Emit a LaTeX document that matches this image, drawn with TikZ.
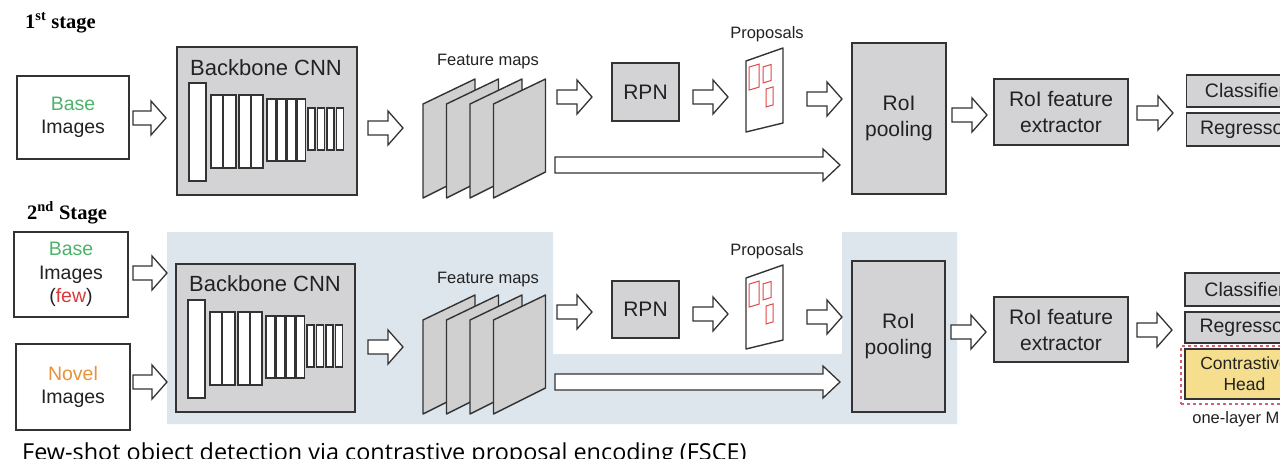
\documentclass[tikz,border=0pt]{standalone}
\usepackage{fontspec}
\setmainfont{Liberation Sans}
\newfontfamily\headfont{Liberation Serif}
\newfontfamily\capfont{Open Sans}
\definecolor{edge}{HTML}{333333}
\definecolor{ink}{HTML}{222222}
\definecolor{boxgray}{HTML}{D3D3D5}
\definecolor{sheetgray}{HTML}{D0D0D0}
\definecolor{bluebg}{HTML}{DDE5ED}
\definecolor{basegreen}{HTML}{4DB36B}
\definecolor{fewred}{HTML}{D83A3A}
\definecolor{novelorange}{HTML}{E8923A}
\definecolor{headyellow}{HTML}{F5DE8E}
\definecolor{dashred}{HTML}{D4606E}
\definecolor{propred}{HTML}{E04848}
% hollow block arrow: x-start, x-end, y-centre
\newcommand\flowarrow[3]{\draw[harrow] (#1,#3-7) -- (#2-15,#3-7) -- (#2-15,#3-17) -- (#2,#3) -- (#2-15,#3+17) -- (#2-15,#3+7) -- (#1,#3+7) -- cycle;}
\newcommand\longflow[3]{\draw[harrow] (#1,#3-8) -- (#2-17,#3-8) -- (#2-17,#3-16) -- (#2,#3) -- (#2-17,#3+16) -- (#2-17,#3+8) -- (#1,#3+8) -- cycle;}
\tikzset{
  box/.style={draw=edge, line width=1.6pt, fill=boxgray, inner sep=0pt, text=ink, align=center},
  inbox/.style={draw=edge, line width=1.5pt, fill=white, inner sep=0pt, text=ink, align=center,
    font=\fontsize{19.5}{23.5}\selectfont},
  layer/.style={draw=edge, line width=1.1pt, fill=white},
  sheet/.style={draw=edge, line width=1.4pt, fill=sheetgray, line join=round},
  propsheet/.style={draw=edge, line width=1.4pt, fill=white, line join=round},
  propbox/.style={draw=propred, line width=1pt},
  harrow/.style={draw=edge, line width=1.3pt, fill=white, line join=miter},
  big/.style={font=\fontsize{22}{26}\selectfont, text=ink, inner sep=0pt},
  mid/.style={font=\fontsize{21}{26}\selectfont},
  headtxt/.style={font=\fontsize{19.5}{24}\selectfont},
  small/.style={font=\fontsize{16.5}{20}\selectfont, text=ink, inner sep=0pt, anchor=base},
  stagehead/.style={font=\headfont\bfseries\fontsize{20.5}{24}\selectfont, inner sep=0pt, anchor=base west},
  pics/cnnstack/.style={code={
    \draw[layer] (13,37) rectangle (30,135);
    \foreach \a/\b in {35/47,47/60,63/75,75/87} \draw[layer] (\a,49) rectangle (\b,122);
    \foreach \a in {91,101,111,121} \draw[layer] (\a,53) rectangle (\a+8.5,115);
    \foreach \a in {132,141.5,151,160.5} \draw[layer] (\a,62) rectangle (\a+7,104);
  }},
  pics/featstack/.style={code={
    \foreach \i in {0,1,2,3}
      \draw[sheet] (23.5*\i,0) -- (23.5*\i+52,-25) -- (23.5*\i+52,68) -- (23.5*\i,94) -- cycle;
  }},
  pics/proposal/.style={code={
    \draw[propsheet] (0,0) -- (37,-13) -- (37,62) -- (0,71) -- cycle;
    \begin{scope}[yslant=0.3]
      \draw[propbox] (3,7) rectangle (13,30);
      \draw[propbox] (17,11) rectangle (25,27);
      \draw[propbox] (20,34) rectangle (27,52);
    \end{scope}
  }},
}
\begin{document}
\begin{tikzpicture}[x=1pt,y=-1pt]
\useasboundingbox (0,0) rectangle (1280,458);
\clip (0,0) rectangle (1280,458);
\fill[white] (0,0) rectangle (1280,458);

% ---------------- first stage ----------------
\node[stagehead] (h1) at (25,28) {1\textsuperscript{st} stage};

\node[inbox, minimum width=112, minimum height=83] (base1) at (73,117.5)
  {\textcolor{basegreen}{Base}\\Images};

\node[box, minimum width=180, minimum height=148, anchor=north west] (cnn1) at (176,46) {};
\node[big, anchor=base] (cnnlbl1) at (266,75) {Backbone CNN};
\pic at (cnn1.north west) {cnnstack};

\node[small] (fmlbl1) at (488,65) {Feature maps};
\pic at (423,104) {featstack};

\node[box, mid, minimum width=67, minimum height=58] (rpn1) at (645.5,92) {RPN};

\node[small] (prlbl1) at (767,38) {Proposals};
\pic at (746,61) {proposal};

\node[box, mid, minimum width=94, minimum height=151] (roi1) at (899,118.5) {RoI\\pooling};
\node[box, mid, minimum width=134, minimum height=66] (ext1) at (1061,112) {RoI feature\\extractor};

\node[box, headtxt, minimum width=117, minimum height=32] (cls1) at (1245,91) {Classifier};
\node[box, headtxt, minimum width=117, minimum height=33] (reg1) at (1245,129.5) {Regressor};

\flowarrow{133}{166}{118}
\flowarrow{368}{403}{128}
\flowarrow{557}{592}{97}
\flowarrow{693}{728}{97}
\flowarrow{807}{842}{99}
\longflow{555}{840}{165}
\flowarrow{952}{987}{115}
\flowarrow{1137}{1173}{113}

% ---------------- second stage ----------------
\fill[bluebg] (167,232) -- (553,232) -- (553,354) -- (842,354) -- (842,232)
  -- (957,232) -- (957,424) -- (167,424) -- cycle;

\node[stagehead] (h2) at (27,219) {2\textsuperscript{nd} Stage};

\node[inbox, minimum width=114, minimum height=85] (base2) at (71,274.5)
  {\textcolor{basegreen}{Base}\\Images\\(\textcolor{fewred}{few})};
\node[inbox, minimum width=114, minimum height=86] (novel2) at (73,387)
  {\textcolor{novelorange}{Novel}\\Images};

\node[box, minimum width=179, minimum height=148, anchor=north west] (cnn2) at (175,263) {};
\node[big, anchor=base] (cnnlbl2) at (265,291) {Backbone CNN};
\pic at (cnn2.north west) {cnnstack};

\node[small] (fmlbl2) at (488,283) {Feature maps};
\pic at (423,320) {featstack};

\node[box, mid, minimum width=67, minimum height=57] (rpn2) at (645.5,309.5) {RPN};

\node[small] (prlbl2) at (767,255) {Proposals};
\pic at (746,278) {proposal};

\node[box, mid, minimum width=93, minimum height=151] (roi2) at (898.5,336.5) {RoI\\pooling};
\node[box, mid, minimum width=134, minimum height=65] (ext2) at (1061,329.5) {RoI feature\\extractor};

\node[box, headtxt, minimum width=119, minimum height=33] (cls2) at (1244.5,289.5) {Classifier};
\node[box, headtxt, minimum width=119, minimum height=31] (reg2) at (1244.5,327.5) {Regressor};
\node[draw=dashred, dashed, line width=1.2pt, minimum width=129, minimum height=58, inner sep=0pt] (mlp2) at (1245.5,375) {};
\node[box, fill=headyellow, font=\fontsize{17.5}{21}\selectfont, minimum width=119, minimum height=50] (con2) at (1244.5,374) {Contrastive\\Head};
\node[small] (mlplbl2) at (1246,423) {one-layer MLP};

\flowarrow{133}{167}{273}
\flowarrow{133}{167}{382}
\flowarrow{368}{403}{347}
\flowarrow{557}{592}{312}
\flowarrow{693}{728}{314}
\flowarrow{807}{842}{317}
\longflow{555}{840}{382}
\flowarrow{951}{986}{332}
\flowarrow{1137}{1172}{330}

% ---------------- caption ----------------
\node[font=\capfont\fontsize{23.4}{28}\selectfont, text=black, inner sep=0pt, anchor=base west] (cap)
  at (22,460) {Few-shot object detection via contrastive proposal encoding (FSCE)};
\end{tikzpicture}
\end{document}
